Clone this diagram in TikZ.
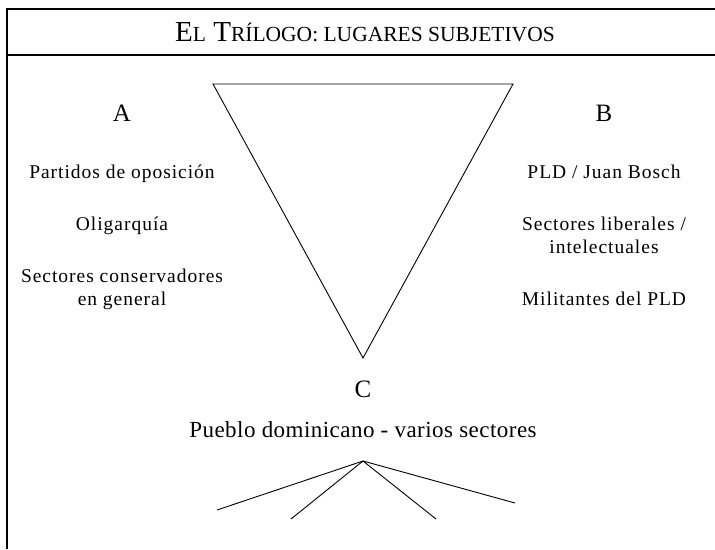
\documentclass[tikz,border=0pt]{standalone}
\usepackage{fontspec}
\setmainfont{Liberation Serif}
\newfontfamily\bodyfont[LetterSpace=5]{Liberation Serif}
\newfontfamily\bigfont[LetterSpace=2]{Liberation Serif}
\begin{document}
\begin{tikzpicture}[x=1pt,y=-1pt,
  body/.style={font=\bodyfont\fontsize{19.5}{23}\selectfont, align=center, inner sep=0pt, anchor=base},
  big/.style={font=\bigfont\fontsize{25}{30}\selectfont, inner sep=0pt, anchor=base},
  frame/.style={line width=1.2pt, black}]
\useasboundingbox (0,0) rectangle (715,549);
% frame
\draw[frame] (715,9) -- (7,9) -- (7,549);
\draw[frame] (7,55) -- (715,55);
\node[inner sep=0pt, anchor=base] (title) at (365,41)
  {\fontsize{29}{30}\selectfont E{\fontsize{21.5}{24}\selectfont L} T{\fontsize{21.5}{24}\selectfont RÍLOGO: LUGARES SUBJETIVOS}};
% triangle
\coordinate (tl) at (213,84);
\coordinate (tr) at (513,84);
\coordinate (bot) at (363,358);
\draw[line width=0.9pt] (tl) -- (tr) -- (bot) -- cycle;
% A column
\node[big] (A) at (122,121) {A};
\node[body] (a1) at (122,178) {Partidos de oposición};
\node[body] (a2) at (122,230) {Oligarquía};
\node[body] (a3) at (122,305) {Sectores conservadores\\en general};
% B column
\node[big] (B) at (604,121) {B};
\node[body] (b1) at (604,178) {PLD / Juan Bosch};
\node[body] (b2) at (604,253) {Sectores liberales /\\intelectuales};
\node[body] (b3) at (604,305) {Militantes del PLD};
% C
\node[big] (C) at (363,397) {C};
\node[inner sep=0pt, anchor=base, font=\bigfont\fontsize{23}{26}\selectfont] (c1) at (363,437) {Pueblo dominicano - varios sectores};
% fan
\coordinate (apex) at (363,461);
\coordinate (f1) at (217,510);
\coordinate (f2) at (291,519);
\coordinate (f3) at (436,519);
\coordinate (f4) at (515,503);
\draw[line width=0.9pt] (f1) -- (apex) -- (f4);
\draw[line width=0.9pt] (f2) -- (apex) -- (f3);
\end{tikzpicture}
\end{document}
